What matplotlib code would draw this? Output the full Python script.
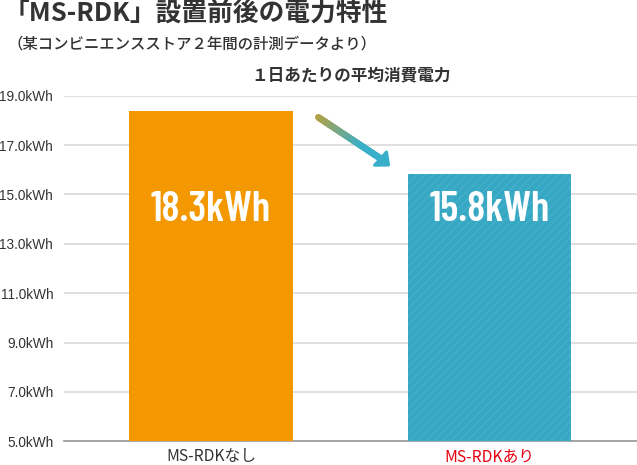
import matplotlib
matplotlib.use("Agg")
import matplotlib.pyplot as plt
import numpy as np
from matplotlib.collections import LineCollection
from matplotlib.patches import Polygon
import matplotlib.colors as mcolors

plt.rcParams['font.family'] = ['Noto Sans CJK JP', 'DejaVu Sans']
plt.rcParams['hatch.linewidth'] = 1.0

# ---- data ----
categories = ["MS-RDKなし", "MS-RDKあり"]
values = [18.4, 15.83]
value_labels = ["18.3kWh", "15.8kWh"]
yticks = [5.0, 7.0, 9.0, 11.0, 13.0, 15.0, 17.0, 19.0]
ytick_labels = ["5.0kWh", "7.0kWh", "9.0kWh", "11.0kWh", "13.0kWh", "15.0kWh", "17.0kWh", "19.0kWh"]
bar_colors = ["#f39800", "#37a8c4"]
label_colors = ["#333333", "#e60012"]

W, H = 637, 465
fig = plt.figure(figsize=(W / 100, H / 100), dpi=100)
ax = fig.add_axes([64.3 / W, 1 - 441.3 / H, (637 - 64.3) / W, (441.3 - 95.7) / H])

x = np.arange(len(categories))
bars = ax.bar(x, values, width=0.585, color=bar_colors, zorder=3)
bars[1].set_hatch('////')
bars[1].set_edgecolor('#45b0ca')
bars[1].set_linewidth(0)

ax.set_ylim(5, 19)
ax.set_xlim(-0.526, 1.528)
ax.set_yticks(yticks)
ax.set_yticklabels(ytick_labels, fontsize=9.8, color="#333333", family=['Liberation Sans', 'DejaVu Sans'])
ax.set_xticks(x)
ax.set_xticklabels(categories, fontsize=11.3)
for t, c in zip(ax.get_xticklabels(), label_colors):
    t.set_color(c)
ax.tick_params(axis='y', length=0, pad=8)
ax.tick_params(axis='x', length=0, pad=5)
for s in ['top', 'right', 'left']:
    ax.spines[s].set_visible(False)
ax.spines['bottom'].set_color('#999999')
ax.spines['bottom'].set_linewidth(1.2)
ax.grid(axis='y', color='#dcdcdc', linewidth=1.3, zorder=0)
ax.set_axisbelow(True)

for xi, lab in zip(x, value_labels):
    ax.text(xi, 14.37, lab, ha='center', va='center', color='white', fontsize=30,
            fontweight='semibold',
            family=['Barlow Condensed', 'Roboto Condensed', 'Oswald', 'DejaVu Sans'], zorder=4)

# titles
fig.text(4 / W, 1 - 13 / H, "「MS-RDK」設置前後の電力特性", fontsize=18.5, fontweight='bold',
         color='#333333', ha='left', va='center')
fig.text(7 / W, 1 - 44 / H, "（某コンビニエンスストア２年間の計測データより）", fontsize=11.1,
         fontweight='medium', color='#333333', ha='left', va='center')
fig.text(351.5 / W, 1 - 75 / H, "１日あたりの平均消費電力", fontsize=12, fontweight='bold',
         color='#333333', ha='center', va='center')

# gradient arrow (decoration)
def fp(px, py):
    return (px / W, 1 - py / H)

p0 = np.array([318.3, 117.3])
p1 = np.array([380.5, 158.5])
n = 60
ts = np.linspace(0, 1, n + 1)
pts = np.array([fp(*(p0 + (p1 - p0) * t)) for t in ts])
segs = np.stack([pts[:-1], pts[1:]], axis=1)
c0 = np.array(mcolors.to_rgb('#b3a145'))
c1 = np.array(mcolors.to_rgb('#3aafca'))
cols = [tuple(c0 + (c1 - c0) * min(1, t * 1.4)) for t in ts[:-1]]
lc = LineCollection(segs, colors=cols, linewidths=4.8, transform=fig.transFigure,
                    capstyle='round')
fig.add_artist(lc)
head = Polygon([fp(388.5, 165.0), fp(386.5, 152.0), fp(374.5, 165.2)], closed=True,
               facecolor='#3aafca', edgecolor='#3aafca', linewidth=2.2, joinstyle='round',
               transform=fig.transFigure)
fig.add_artist(head)

fig.savefig("out.png", dpi=100)
